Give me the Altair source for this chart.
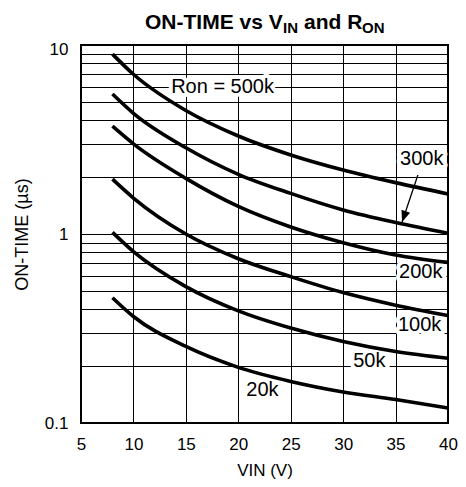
import altair as alt
import pandas as pd

# ---- data ----
vin = [8, 10, 15, 20, 25, 30, 35, 40]
ron_500k = [8.95, 7.0, 4.5, 3.3, 2.62, 2.18, 1.87, 1.63]
ron_300k = [5.5, 4.35, 2.86, 2.07, 1.64, 1.34, 1.15, 1.01]
ron_200k = [3.72, 3.0, 1.97, 1.40, 1.09, 0.90, 0.775, 0.708]
ron_100k = [1.95, 1.55, 1.0, 0.74, 0.595, 0.49, 0.42, 0.37]
ron_50k = [1.02, 0.807, 0.527, 0.392, 0.318, 0.27, 0.239, 0.22]
ron_20k = [0.46, 0.366, 0.254, 0.197, 0.166, 0.146, 0.133, 0.12]
series_names = ["500k", "300k", "200k", "100k", "50k", "20k"]

label_text = ["Ron = 500k", "300k", "200k", "100k", "50k", "20k"]
label_x = [18.5, 37.5, 37.4, 37.3, 32.5, 22.3]
label_y = [6.0, 2.5, 0.63, 0.33, 0.213, 0.15]

arrow_x = [37.13, 35.62]
arrow_y = [2.05, 1.157]

x_ticks = [5, 10, 15, 20, 25, 30, 35, 40]
y_grid = [0.1, 0.2, 0.3, 0.4, 0.5, 0.6, 0.7, 0.8, 0.9,
          1, 2, 3, 4, 5, 6, 7, 8, 9, 10]
y_labels = [0.1, 1, 10]

FONT = "Liberation Sans"

# ---- tables ----
rows = []
for name, vals in zip(series_names, [ron_500k, ron_300k, ron_200k, ron_100k, ron_50k, ron_20k]):
    for v, t in zip(vin, vals):
        rows.append({"series": name, "vin": v, "t": t})
curves = pd.DataFrame(rows)
labels = pd.DataFrame({"label": label_text, "vin": label_x, "t": label_y})
arrow = pd.DataFrame({"vin": arrow_x, "t": arrow_y, "o": [0, 1]})
arrow_tip = arrow.iloc[[1]]

label_cond = " || ".join(f"datum.value == {v}" for v in y_labels)

x_enc = alt.X("vin:Q", scale=alt.Scale(domain=[5, 40], nice=False, zero=False),
              axis=alt.Axis(values=x_ticks, title="VIN (V)", grid=True, ticks=False,
                            domain=False, labelFlush=False, labelPadding=13,
                            titlePadding=10, titleFontSize=17))
y_enc = alt.Y("t:Q", scale=alt.Scale(type="log", domain=[0.1, 10], nice=False),
              axis=alt.Axis(values=y_grid, title="ON-TIME (µs)", grid=True, ticks=False,
                            domain=False, labelFlush=False, labelPadding=13,
                            titlePadding=13,
                            labelOffset={"condition": {"test": "datum.value == 10", "value": 4},
                                         "value": 0},
                            labelExpr=f"({label_cond}) ? format(datum.value, '~g') : ''"))

lines = alt.Chart(curves).mark_line(color="black", strokeWidth=3.6,
                                    interpolate="monotone", strokeCap="butt").encode(
    x=x_enc, y=y_enc, detail="series:N")

halo = alt.Chart(labels).mark_text(font=FONT, fontSize=20, color="white", stroke="white",
                                   strokeWidth=8, strokeJoin="round",
                                   baseline="middle", align="center").encode(
    x=x_enc, y=y_enc, text="label:N")

text = alt.Chart(labels).mark_text(font=FONT, fontSize=20, color="black",
                                   baseline="middle", align="center").encode(
    x=x_enc, y=y_enc, text="label:N")

arrow_line = alt.Chart(arrow).mark_line(color="black", strokeWidth=1.3).encode(
    x=x_enc, y=y_enc, order="o:Q")

arrow_head = alt.Chart(arrow_tip).mark_point(
    shape="M-0.4,-1L0,0L0.4,-1Z", filled=True, color="black", opacity=1,
    size=520, angle=19).encode(x=x_enc, y=y_enc)

# title with subscripts, built from pieces
title_parts = [
    ("ON-TIME vs V", 64, -16.5, 21),
    ("IN", 202, -12, 15),
    ("and R", 223, -16.5, 21),
    ("ON", 281, -12, 15),
]
title_layers = []
for txt, px, py, fs in title_parts:
    title_layers.append(
        alt.Chart(pd.DataFrame({"s": [txt]})).mark_text(
            font=FONT, fontSize=fs, fontWeight="bold", color="black",
            align="left", baseline="alphabetic").encode(
            x=alt.value(px), y=alt.value(py), text="s:N"))

chart = alt.layer(halo, lines, text, arrow_line, arrow_head, *title_layers).properties(
    width=367, height=378,
    padding={"left": 73, "top": 37, "right": 10, "bottom": 56},
    autosize=alt.AutoSizeParams(type="none"),
).configure(background="white").configure_view(
    stroke="black", strokeWidth=2
).configure_axis(
    gridColor="black", gridWidth=1, gridOpacity=1,
    labelFont=FONT, labelFontSize=17, labelColor="black",
    titleFont=FONT, titleFontSize=18, titleFontWeight="normal", titleColor="black",
)

chart.save("out.html", embed_options={"renderer": "svg", "actions": False})
